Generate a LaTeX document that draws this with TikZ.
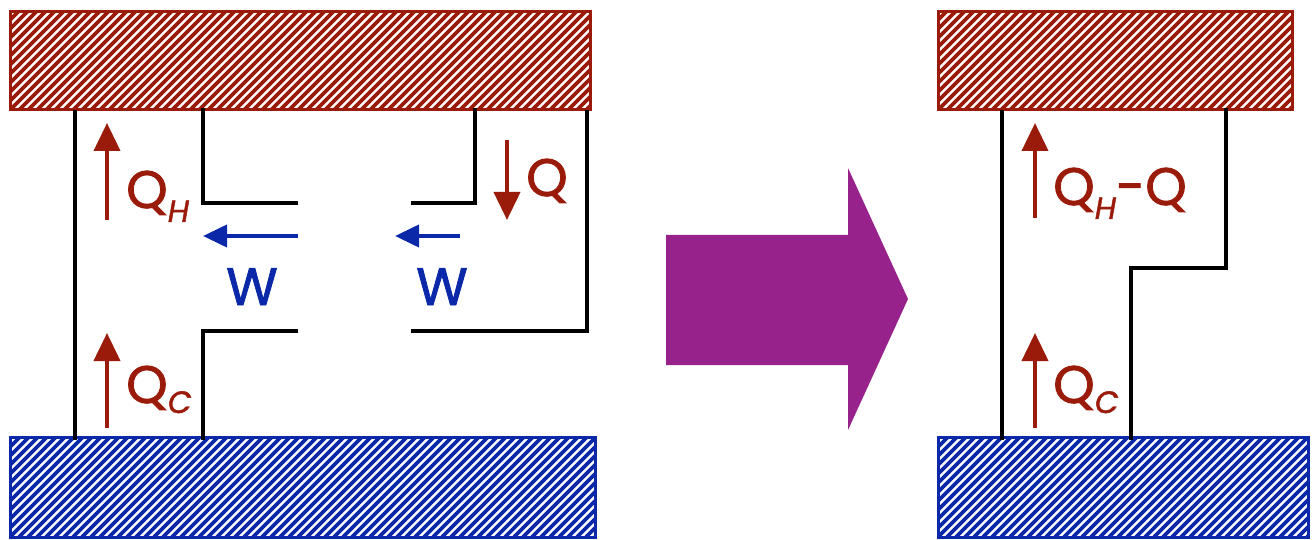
\documentclass[tikz,border=0pt]{standalone}
\usepackage{fontspec}
\setmainfont{Poppins}
\newfontfamily\lbl{Poppins}[FakeBold=1.6,ItalicFeatures={FakeBold=1.4}]
\usetikzlibrary{arrows.meta,calc}
\definecolor{hot}{RGB}{155,27,10}
\definecolor{cold}{RGB}{10,40,168}
\definecolor{purp}{RGB}{152,34,140}
\tikzset{
  x=1bp,y=-1bp,
  res/.style={draw=#1,line width=3bp,rectangle,anchor=north west,inner sep=0pt,outer sep=0pt,
    path picture={\foreach \k in {-20,...,75}{\draw[#1,line width=3.6bp] ($(path picture bounding box.south west)+(\k*9,0)$) -- ++(130,-130);}}},
  wire/.style={line width=3.8bp,black,line join=miter},
  heat/.style={line width=4bp,hot,-{Triangle[length=28bp,width=26bp]}},
  work/.style={line width=4bp,cold,-{Triangle[length=24bp,width=22bp]}},
  big/.style={font=\lbl\fontsize{53}{53}\selectfont},
}
\newcommand{\subH}{\raisebox{-14bp}{\fontsize{31}{31}\selectfont\itshape H}}
\newcommand{\subC}{\raisebox{-10bp}{\fontsize{31}{31}\selectfont\itshape C}}
\begin{document}
\begin{tikzpicture}
\useasboundingbox (0,0) rectangle (1312,540);
% reservoirs
\node[res=hot,minimum width=580bp,minimum height=98bp] (hotL) at (10,12) {};
\node[res=cold,minimum width=585bp,minimum height=100bp] (coldL) at (10,437) {};
\node[res=hot,minimum width=354bp,minimum height=98bp] (hotR) at (938,12) {};
\node[res=cold,minimum width=370bp,minimum height=100bp] (coldR) at (938,437) {};
% left engine wires
\draw[wire] (75,110) -- (75,440);
\draw[wire] (203,108) -- (203,203) -- (298,203);
\draw[wire] (298,331) -- (203,331) -- (203,440);
\draw[wire] (475,108) -- (475,203) -- (411,203);
\draw[wire] (587,110) -- (587,331) -- (411,331);
% right wires
\draw[wire] (1002,110) -- (1002,440);
\draw[wire] (1226,108) -- (1226,268) -- (1131,268) -- (1131,440);
% heat arrows
\draw[heat] (107,220) -- (107,123);
\draw[heat] (107,428) -- (107,333);
\draw[heat] (507,140) -- (507,220);
\draw[heat] (1035,218) -- (1035,123);
\draw[heat] (1035,428) -- (1035,333);
% work arrows
\draw[work] (298,236) -- (203,236);
\draw[work] (460,236) -- (395,236);
% labels
\node[big,hot,anchor=base west,inner sep=0pt] (qh) at (126,208) {Q\subH};
\node[big,hot,anchor=base west,inner sep=0pt] (qc) at (126,403) {Q\subC};
\node[big,hot,anchor=base west,inner sep=0pt] (q) at (526,196) {Q};
\node[big,cold,anchor=base,inner sep=0pt] (w1) at (252,305) {W};
\node[big,cold,anchor=base,inner sep=0pt] (w2) at (442,305) {W};
\node[big,hot,anchor=base west,inner sep=0pt] (qhq) at (1053,205) {Q\subH-Q};
\node[big,hot,anchor=base west,inner sep=0pt] (qc2) at (1053,403) {Q\subC};
% big arrow
\fill[purp] (666,235) -- (848,235) -- (848,168) -- (908,299) -- (848,430) -- (848,365) -- (666,365) -- cycle;
\end{tikzpicture}
\end{document}
